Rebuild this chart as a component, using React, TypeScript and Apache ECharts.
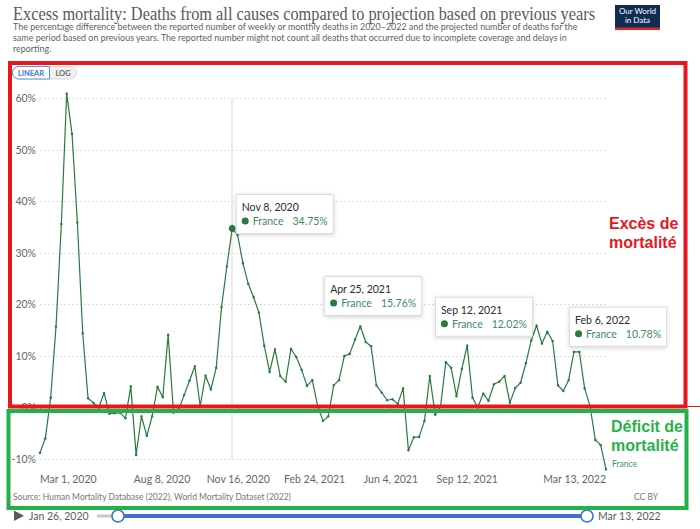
import React, { useEffect, useRef } from 'react';
import * as echarts from 'echarts';

// ---------- data ----------
const START_DATE = '2020-03-01';
const TIMELINE_START = '2020-01-26';
const WEEK = 7;
const SERIES_NAME = 'France';

// weekly excess mortality (%), Mar 1, 2020 -> Mar 13, 2022
const franceExcess = [
  -8.8, -6.0, 1.9, 15.7, 35.6, 60.9, 53.1, 35.9, 14.4, 1.8,
  0.9, 0.0, 2.8, -1.2, -1.1, -1.0, -2.1, 4.1, -9.2, -1.7,
  -5.5, -1.7, 4.0, 2.0, 14.1, -1.0, -0.3, 2.4, 5.2, 8.0,
  0.3, 6.2, 3.5, 7.7, 19.5, 27.4, 34.75, 33.5, 28.0, 24.0,
  21.4, 18.4, 12.0, 6.9, 11.3, 6.1, 5.0, 11.4, 9.8, 7.3,
  4.2, 5.3, 0.3, -2.6, -1.7, 4.3, 5.3, 10.0, 10.4, 13.2,
  15.76, 12.7, 11.9, 4.3, 2.9, 1.4, 1.6, 0.7, 3.7, -8.3,
  -5.8, -5.7, -2.6, 6.1, -1.4, 0.1, 8.8, 7.7, 2.2, 7.5,
  12.02, 1.9, 0.0, 2.7, 1.3, 4.5, 5.0, 6.1, 0.9, 3.8,
  4.8, 8.6, 13.0, 15.9, 12.4, 14.7, 12.9, 4.3, 3.2, 5.3,
  10.8, 10.78, 3.7, 0.3, -6.3, -7.3, -12.0,
];

const xTickDates = ['2020-03-01', '2020-08-08', '2020-11-16', '2021-02-24', '2021-06-04', '2021-09-12', '2022-03-13'];
const yAxisMin = -10;
const yAxisMax = 60;
const yAxisStep = 10;

const highlightedWeeks = [36, 60, 80, 101];
const hoveredWeek = 36;

const TITLE = 'Excess mortality: Deaths from all causes compared to projection based on previous years';
const SUBTITLE_LINES = [
  'The percentage difference between the reported number of weekly or monthly deaths in 2020\u20132022 and the projected number of deaths for the',
  'same period based on previous years. The reported number might not count all deaths that occurred due to incomplete coverage and delays in',
  'reporting.',
];
const SOURCE = 'Source: Human Mortality Database (2022), World Mortality Dataset (2022)';
const LICENSE = 'CC BY';
const EXCESS_NOTE = 'Excès de\nmortalité';
const DEFICIT_NOTE = 'Déficit de\nmortalité';

// ---------- helpers ----------
const DAY_MS = 86400000;
const MONTHS = ['Jan', 'Feb', 'Mar', 'Apr', 'May', 'Jun', 'Jul', 'Aug', 'Sep', 'Oct', 'Nov', 'Dec'];
const dayOf = (iso: string) => Math.round((Date.parse(iso) - Date.parse(START_DATE)) / DAY_MS);
const fmtDay = (day: number) => {
  const d = new Date(Date.parse(START_DATE) + day * DAY_MS);
  return `${MONTHS[d.getUTCMonth()]} ${d.getUTCDate()}, ${d.getUTCFullYear()}`;
};

const LINE_COLOR = '#2b7a3c';
const LABEL_FONT = 'Lato, "Noto Sans", sans-serif';

// tooltip-box offsets (layout only)
const tipOffset: Record<number, [number, number]> = {
  36: [8, -30],
  60: [-34, -48],
  80: [-30, -46.5],
  101: [-8, -43],
};

export default function App() {
  const ref = useRef<HTMLDivElement>(null);

  useEffect(() => {
    if (!ref.current) return;
    const chart = echarts.init(ref.current, null, { renderer: 'svg' });

    const tickDays = xTickDates.map(dayOf);
    const lastDay = (franceExcess.length - 1) * WEEK;

    const seriesData = franceExcess.map((v, i) => {
      const day = i * WEEK;
      if (!highlightedWeeks.includes(i)) return [day, v];
      const big = i === hoveredWeek;
      return {
        value: [day, v],
        symbolSize: big ? 7 : 2.5,
        label: {
          show: true,
          position: tipOffset[i],
          formatter: `{t|${fmtDay(day)}}\n{d| }{n|${SERIES_NAME}}{v|${v.toFixed(2)}%}`,
          backgroundColor: '#ffffff',
          borderColor: '#dcdcdc',
          borderWidth: 1,
          shadowColor: 'rgba(0,0,0,0.18)',
          shadowBlur: 4,
          shadowOffsetY: 1,
          padding: [5, 5, 5, 5],
          rich: {
            t: { fontFamily: LABEL_FONT, fontSize: 10.5, color: '#2b2b2b', lineHeight: 14 },
            d: { width: 7, height: 7, borderRadius: 3.5, backgroundColor: LINE_COLOR, fontSize: 1 },
            n: { fontFamily: LABEL_FONT, fontSize: 10.5, color: '#3f8a5e', padding: [0, 0, 0, 4], lineHeight: 14 },
            v: { fontFamily: LABEL_FONT, fontSize: 10.5, color: '#3f8a5e', padding: [0, 0, 0, 9], lineHeight: 14 },
          },
        },
      };
    });

    const graphics: any[] = [
      {
        type: 'text', x: 13, y: 4, scaleX: 0.86, z: 10,
        style: { text: TITLE, fontFamily: '"Liberation Serif", serif', fontSize: 19, fill: '#5a5a5a', textVerticalAlign: 'top', verticalAlign: 'top' },
      },
      {
        type: 'text', x: 13, y: 20.5, scaleX: 0.93, z: 10,
        style: { text: SUBTITLE_LINES.join('\n'), fontFamily: LABEL_FONT, fontSize: 9.6, lineHeight: 11.3, fill: '#5f5f5f', textVerticalAlign: 'top', verticalAlign: 'top' },
      },
      // logo
      { type: 'rect', shape: { x: 615, y: 5, width: 45, height: 25 }, style: { fill: '#0f2c55' }, z: 10 },
      { type: 'rect', shape: { x: 615, y: 27.5, width: 45, height: 2.5 }, style: { fill: '#d42b21' }, z: 11 },
      {
        type: 'text', x: 637.5, y: 15.5, z: 12,
        style: { text: 'Our World\nin Data', fontFamily: LABEL_FONT, fontSize: 8, lineHeight: 9, fill: '#ffffff', textAlign: 'center', align: 'center', textVerticalAlign: 'middle', verticalAlign: 'middle' },
      },
      // LINEAR / LOG toggle
      { type: 'rect', shape: { x: 12.5, y: 66.5, width: 64, height: 12.5, r: 6.25 }, style: { fill: '#f1f1f1', stroke: '#dadada', lineWidth: 1 }, z: 10 },
      { type: 'rect', shape: { x: 12.5, y: 66.5, width: 37, height: 12.5, r: [6.25, 0, 0, 6.25] }, style: { fill: '#ffffff', stroke: '#5b8ee0', lineWidth: 1 }, z: 11 },
      {
        type: 'text', x: 31, y: 73, z: 12,
        style: { text: 'LINEAR', fontFamily: LABEL_FONT, fontSize: 7.5, fontWeight: 'bold', fill: '#3f72d4', textAlign: 'center', align: 'center', textVerticalAlign: 'middle', verticalAlign: 'middle' },
      },
      {
        type: 'text', x: 63, y: 73, z: 12,
        style: { text: 'LOG', fontFamily: LABEL_FONT, fontSize: 7.5, fontWeight: 'bold', fill: '#666666', textAlign: 'center', align: 'center', textVerticalAlign: 'middle', verticalAlign: 'middle' },
      },
      // footer
      {
        type: 'text', x: 13, y: 497, z: 10,
        style: { text: SOURCE, fontFamily: LABEL_FONT, fontSize: 8.5, fill: '#777777', textVerticalAlign: 'middle', verticalAlign: 'middle' },
      },
      {
        type: 'text', x: 658, y: 497, z: 10,
        style: { text: LICENSE, fontFamily: LABEL_FONT, fontSize: 8.5, fill: '#777777', textAlign: 'right', align: 'right', textVerticalAlign: 'middle', verticalAlign: 'middle' },
      },
      // timeline
      { type: 'polygon', shape: { points: [[14, 510.5], [14, 521], [24, 515.8]] }, style: { fill: '#5a5a5a' }, z: 10 },
      {
        type: 'text', x: 29, y: 516, z: 10,
        style: { text: fmtDay(dayOf(TIMELINE_START)), fontFamily: LABEL_FONT, fontSize: 10.5, fill: '#5a5a5a', textVerticalAlign: 'middle', verticalAlign: 'middle' },
      },
      { type: 'line', shape: { x1: 97, y1: 516, x2: 118, y2: 516 }, style: { stroke: '#c8c8c8', lineWidth: 3 }, z: 10 },
      { type: 'line', shape: { x1: 118, y1: 516, x2: 587, y2: 516 }, style: { stroke: '#3e70d8', lineWidth: 4 }, z: 10 },
      { type: 'circle', shape: { cx: 118, cy: 516, r: 6 }, style: { fill: '#ffffff', stroke: '#3e70d8', lineWidth: 1.5 }, z: 11 },
      { type: 'circle', shape: { cx: 587, cy: 516, r: 6 }, style: { fill: '#ffffff', stroke: '#3e70d8', lineWidth: 1.5 }, z: 11 },
      {
        type: 'text', x: 598, y: 516, z: 10,
        style: { text: fmtDay(lastDay), fontFamily: LABEL_FONT, fontSize: 10.5, fill: '#5a5a5a', textVerticalAlign: 'middle', verticalAlign: 'middle' },
      },
      // annotation boxes
      { type: 'rect', shape: { x: 10, y: 63, width: 675.5, height: 343.5 }, style: { fill: 'none', stroke: '#e8171f', lineWidth: 4 }, z: 100 },
      { type: 'line', shape: { x1: 686, y1: 406.5, x2: 700, y2: 406.5 }, style: { stroke: '#e8171f', lineWidth: 1 }, z: 100 },
      { type: 'rect', shape: { x: 8.5, y: 411, width: 678, height: 97 }, style: { fill: 'none', stroke: '#22b04b', lineWidth: 4 }, z: 100 },
      {
        type: 'text', x: 609, y: 213.5, z: 101,
        style: { text: EXCESS_NOTE, fontFamily: '"Liberation Sans", Arial, sans-serif', fontWeight: 'bold', fontSize: 16, lineHeight: 19, fill: '#e8171f', textVerticalAlign: 'top', verticalAlign: 'top' },
      },
      {
        type: 'text', x: 611, y: 417, z: 101,
        style: { text: DEFICIT_NOTE, fontFamily: '"Liberation Sans", Arial, sans-serif', fontWeight: 'bold', fontSize: 16, lineHeight: 19, fill: '#28b24a', textVerticalAlign: 'top', verticalAlign: 'top' },
      },
    ];

    const option: any = {
      animation: false,
      backgroundColor: '#ffffff',
      grid: { left: 40, right: 94, top: 98.3, bottom: 70, containLabel: false },
      xAxis: {
        type: 'value',
        min: 0,
        max: lastDay,
        offset: 10,
        axisLine: { show: false },
        splitLine: { show: false },
        axisTick: { show: true, customValues: tickDays, length: 3, lineStyle: { color: '#bdbdbd' } },
        axisLabel: {
          customValues: tickDays,
          formatter: (v: number) => fmtDay(v),
          fontFamily: LABEL_FONT,
          fontSize: 10.5,
          color: '#666666',
          margin: 4,
          alignMinLabel: 'left',
          alignMaxLabel: 'right',
        },
      },
      yAxis: {
        type: 'value',
        min: yAxisMin,
        max: yAxisMax,
        interval: yAxisStep,
        axisLine: { show: false },
        axisTick: { show: false },
        axisLabel: {
          formatter: (v: number) => `${v}%`,
          fontFamily: LABEL_FONT,
          fontSize: 10.5,
          color: '#666666',
          margin: 4,
        },
        splitLine: { show: true, lineStyle: { color: '#dddddd', type: [2, 2], width: 1 } },
      },
      series: [
        {
          type: 'line',
          name: SERIES_NAME,
          data: seriesData,
          clip: false,
          showSymbol: true,
          symbol: 'circle',
          symbolSize: 2.5,
          lineStyle: { color: LINE_COLOR, width: 1.2 },
          itemStyle: { color: LINE_COLOR },
          label: { show: false },
          endLabel: {
            show: true,
            formatter: SERIES_NAME,
            fontFamily: LABEL_FONT,
            fontSize: 8.5,
            color: '#3f8a7a',
            offset: [-2, -5],
          },
          markLine: {
            silent: true,
            symbol: ['none', 'none'],
            label: { show: false },
            lineStyle: { color: '#e4e4e4', width: 1.5, type: 'solid' },
            data: [{ xAxis: hoveredWeek * WEEK }],
            z: 1,
          },
        },
      ],
      graphic: { elements: graphics },
    };

    chart.setOption(option);
    return () => chart.dispose();
  }, []);

  return <div ref={ref} style={{ position: 'absolute', left: 0, top: 0, width: 700, height: 529 }} />;
}
